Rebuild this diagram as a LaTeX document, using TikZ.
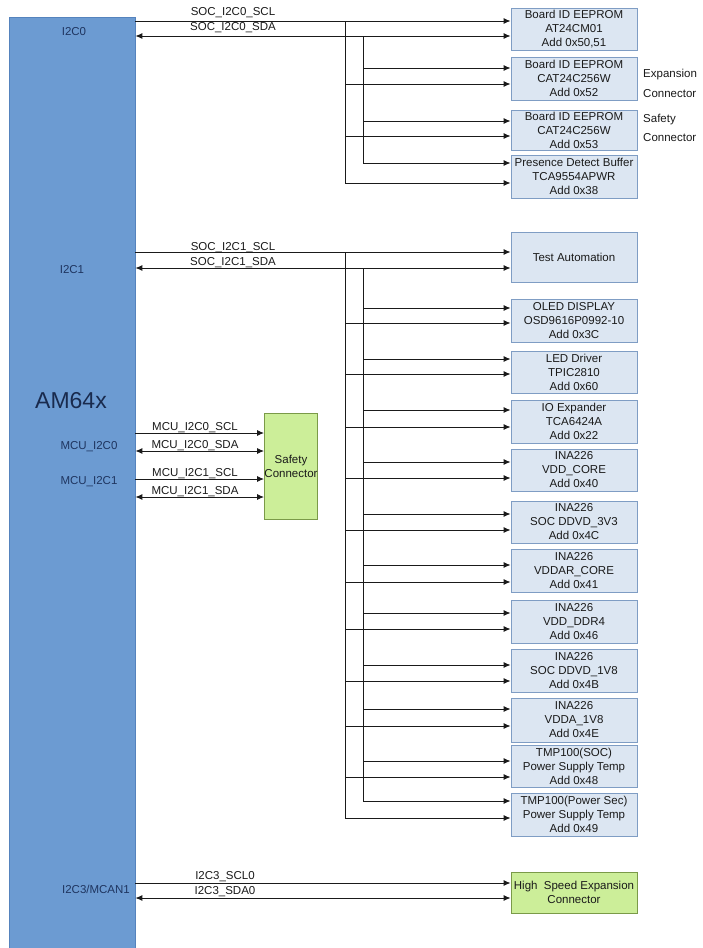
\documentclass[tikz,border=0pt]{standalone}
\usepackage{fontspec}
\setmainfont{Liberation Sans}
\usetikzlibrary{arrows.meta,calc}
\definecolor{chipblue}{HTML}{6C9BD2}
\definecolor{chipedge}{HTML}{5583BD}
\definecolor{devfill}{HTML}{DCE6F2}
\definecolor{devedge}{HTML}{7F9DC4}
\definecolor{connfill}{HTML}{CCEE99}
\definecolor{connedge}{HTML}{7A9A48}
\definecolor{navy}{HTML}{1F3560}
\definecolor{ink}{HTML}{1A1A1A}
\tikzset{
  chipbox/.style={draw=chipedge, fill=chipblue, line width=0.8pt, minimum width=126pt, minimum height=931pt, inner sep=0pt},
  dev/.style={draw=devedge, fill=devfill, line width=0.9pt, minimum width=126pt, inner sep=0pt, align=center, font=\fontsize{11.5}{14}\selectfont, text=ink},
  connbox/.style={draw=connedge, fill=connfill, line width=0.9pt, inner sep=0pt, align=center, font=\fontsize{11.5}{14}\selectfont, text=ink},
  sig/.style={draw=ink, line width=0.9pt},
  arr/.style={sig, -{Latex[length=7pt,width=6pt]}},
  darr/.style={sig, {Latex[length=7pt,width=6pt]}-{Latex[length=7pt,width=6pt]}},
  lbl/.style={font=\fontsize{11.5}{13}\selectfont, inner sep=0pt, text=ink},
  pinlbl/.style={font=\fontsize{11.5}{13}\selectfont, inner sep=0pt, text=navy},
  side/.style={font=\fontsize{11.5}{19.5}\selectfont, inner sep=0pt, text=ink, align=left, anchor=west}
}
\begin{document}
\begin{tikzpicture}[x=1pt,y=-1pt]
\useasboundingbox (0,0) rectangle (702,948);
\fill[white] (0,0) rectangle (702,948);

% chip
\node[chipbox] (chip) at (72,482.5) {};
\node[pinlbl] (pI2C0) at (74,32) {I2C0};
\node[pinlbl] (pI2C1) at (72,270) {I2C1};
\node[font=\fontsize{23}{26}\selectfont, text=navy!80!black, inner sep=0pt] (am) at (71,401) {AM64x};
\node[pinlbl] (pM0) at (89,447) {MCU\_I2C0};
\node[pinlbl] (pM1) at (89,482) {MCU\_I2C1};
\node[pinlbl] (pI2C3) at (96,889) {I2C3/MCAN1};

% I2C0 devices
\node[dev, minimum height=42pt] (b1) at (574,29) {Board ID EEPROM\\AT24CM01\\Add 0x50,51};
\node[dev, minimum height=43pt] (b2) at (574,78.5) {Board ID EEPROM\\CAT24C256W\\Add 0x52};
\node[dev, minimum height=40pt] (b3) at (574,130) {Board ID EEPROM\\CAT24C256W\\Add 0x53};
\node[dev, minimum height=43pt] (b4) at (574,176.5) {Presence Detect Buffer\\TCA9554APWR\\Add 0x38};
\node[side] (expl) at (643,83.5) {Expansion\\Connector};
\node[side] (safl) at (643,128) {Safety\\Connector};

% I2C0 lines
\coordinate (t0scl) at (345,21);
\coordinate (t0sda) at (363,36);
\draw[arr] (chip.east |- t0scl) -- (b1.west |- t0scl);
\draw[darr] (chip.east |- t0sda) -- (b1.west |- t0sda);
\node[lbl] (l0scl) at (233,13) {SOC\_I2C0\_SCL};
\node[lbl] (l0sda) at (233,28) {SOC\_I2C0\_SDA};
\coordinate (e0scl) at (345,183);
\coordinate (e0sda) at (363,163);
\draw[sig] (t0scl) -- (e0scl);
\draw[sig] (t0sda) -- (e0sda);
\foreach \n/\ya/\yb in {b2/68/84, b3/121/136, b4/163/183}{
  \coordinate (ta) at (363,\ya);
  \coordinate (tb) at (345,\yb);
  \draw[arr] (ta) -- (ta -| \n.west);
  \draw[arr] (tb) -- (tb -| \n.west);
}

% I2C1 devices
\node[dev, minimum height=50pt] (ta1) at (574,257) {Test Automation};
\node[dev, minimum height=43pt] (d1) at (574,320.5) {OLED DISPLAY\\OSD9616P0992-10\\Add 0x3C};
\node[dev, minimum height=42pt] (d2) at (574,372) {LED Driver\\TPIC2810\\Add 0x60};
\node[dev, minimum height=43pt] (d3) at (574,421.5) {IO Expander\\TCA6424A\\Add 0x22};
\node[dev, minimum height=42pt] (d4) at (574,470) {INA226\\VDD\_CORE\\Add 0x40};
\node[dev, minimum height=42pt] (d5) at (574,522) {INA226\\SOC DDVD\_3V3\\Add 0x4C};
\node[dev, minimum height=43pt] (d6) at (574,570.5) {INA226\\VDDAR\_CORE\\Add 0x41};
\node[dev, minimum height=43pt] (d7) at (574,621.5) {INA226\\VDD\_DDR4\\Add 0x46};
\node[dev, minimum height=43pt] (d8) at (574,670.5) {INA226\\SOC DDVD\_1V8\\Add 0x4B};
\node[dev, minimum height=44pt] (d9) at (574,720) {INA226\\VDDA\_1V8\\Add 0x4E};
\node[dev, minimum height=42pt] (d10) at (574,766) {TMP100(SOC)\\Power Supply Temp\\Add 0x48};
\node[dev, minimum height=43pt] (d11) at (574,814.5) {TMP100(Power Sec)\\Power Supply Temp\\Add 0x49};

% I2C1 lines
\coordinate (t1scl) at (345,252);
\coordinate (t1sda) at (363,268);
\draw[arr] (chip.east |- t1scl) -- (ta1.west |- t1scl);
\draw[darr] (chip.east |- t1sda) -- (ta1.west |- t1sda);
\node[lbl] (l1scl) at (233,248) {SOC\_I2C1\_SCL};
\node[lbl] (l1sda) at (233,263) {SOC\_I2C1\_SDA};
\coordinate (e1scl) at (345,818);
\coordinate (e1sda) at (363,801);
\draw[sig] (t1scl) -- (e1scl);
\draw[sig] (t1sda) -- (e1sda);
\foreach \n/\ya/\yb in {d1/308/323, d2/359/374, d3/410/427, d4/462/478, d5/514/530, d6/565/582, d7/613/629, d8/665/681, d9/709/726, d10/761/777, d11/801/818}{
  \coordinate (ta) at (363,\ya);
  \coordinate (tb) at (345,\yb);
  \draw[arr] (ta) -- (ta -| \n.west);
  \draw[arr] (tb) -- (tb -| \n.west);
}

% MCU safety connector
\node[connbox, minimum width=52pt, minimum height=106pt] (saf) at (291,466) {Safety\\Connector};
\coordinate (m1) at (0,433);
\coordinate (m2) at (0,451);
\coordinate (m3) at (0,479);
\coordinate (m4) at (0,497);
\draw[arr] (chip.east |- m1) -- (saf.west |- m1);
\draw[darr] (chip.east |- m2) -- (saf.west |- m2);
\draw[arr] (chip.east |- m3) -- (saf.west |- m3);
\draw[darr] (chip.east |- m4) -- (saf.west |- m4);
\node[lbl] (lm1) at (195,428) {MCU\_I2C0\_SCL};
\node[lbl] (lm2) at (195,446) {MCU\_I2C0\_SDA};
\node[lbl] (lm3) at (195,474) {MCU\_I2C1\_SCL};
\node[lbl] (lm4) at (195,492) {MCU\_I2C1\_SDA};

% I2C3
\node[connbox, minimum width=126pt, minimum height=41pt] (hs) at (574,892.5) {High\ \ Speed Expansion\\Connector};
\coordinate (h1) at (0,883);
\coordinate (h2) at (0,898);
\draw[arr] (chip.east |- h1) -- (hs.west |- h1);
\draw[darr] (chip.east |- h2) -- (hs.west |- h2);
\node[lbl] (lh1) at (225,877) {I2C3\_SCL0};
\node[lbl] (lh2) at (225,892) {I2C3\_SDA0};
\end{tikzpicture}
\end{document}
